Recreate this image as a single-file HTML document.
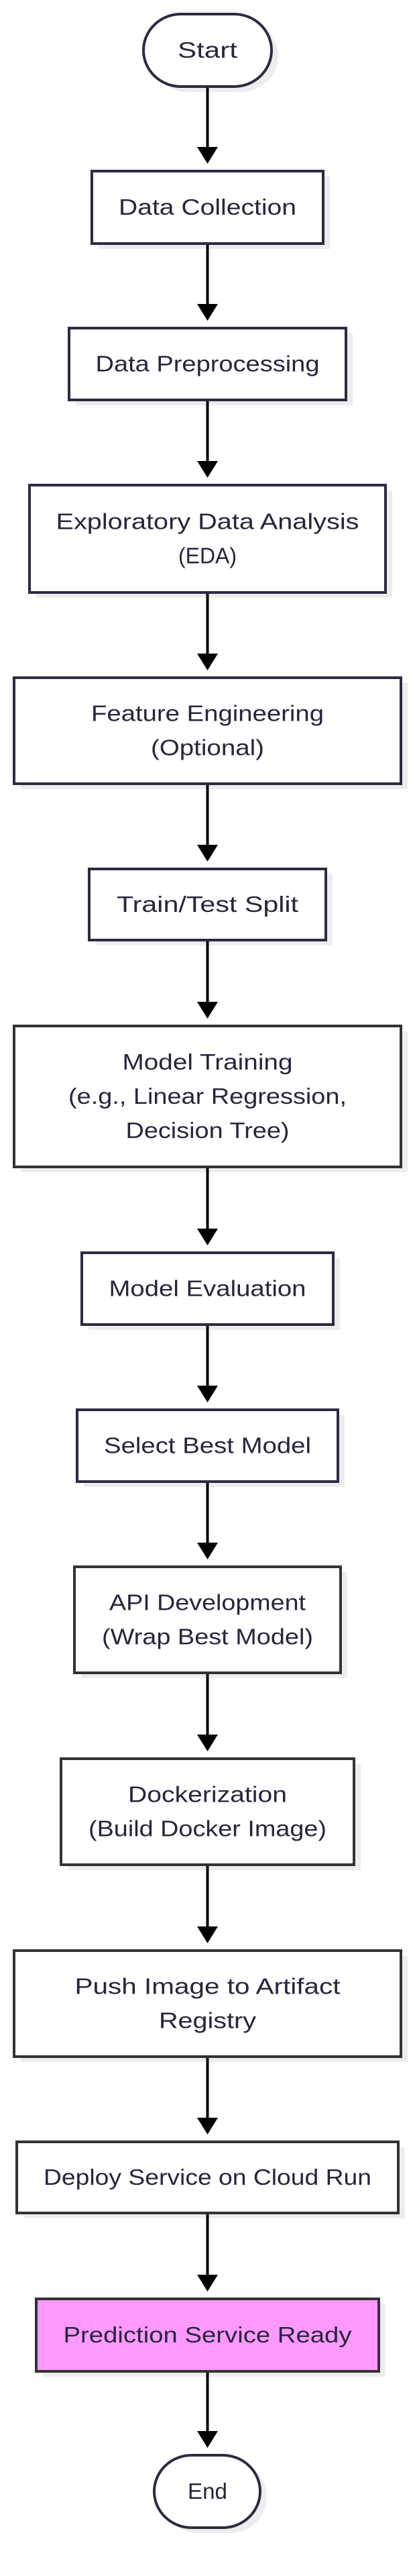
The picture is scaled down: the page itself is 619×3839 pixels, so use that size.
<!DOCTYPE html>
<html><head><meta charset="utf-8"><style>
html,body{margin:0;padding:0;background:#fff;}
svg{display:block;}
text{font-family:"Liberation Sans",sans-serif;font-size:33px;fill:#26263d;}
</style></head><body>
<svg width="619" height="3839" viewBox="0 0 619 3839" xmlns="http://www.w3.org/2000/svg">
<g id="d"></g>
</svg>
<script>
const N=[
 [212,19,407,131,[["Start",89]],'pill','#2b2b42','#fff'],
 [135,253,484,365,[["Data Collection",265]],'r','#2b2b42','#fff'],
 [101,487,518,598,[["Data Preprocessing",334]],'r','#2b2b42','#fff'],
 [42,721,577,885,[["Exploratory Data Analysis",452],["(EDA)",87]],'r','#2b2b42','#fff'],
 [19,1008,600,1170,[["Feature Engineering",347],["(Optional)",169]],'r','#2b2b42','#fff'],
 [131,1293,488,1403,[["Train/Test Split",271]],'r','#2b2b42','#fff'],
 [19,1527,600,1741,[["Model Training",254],["(e.g., Linear Regression,",415],["Decision Tree)",244]],'r','#333','#fff'],
 [120,1865,499,1976,[["Model Evaluation",294]],'r','#2b2b42','#fff'],
 [113,2099,506,2210,[["Select Best Model",309]],'r','#2b2b42','#fff'],
 [109,2333,510,2495,[["API Development",293],["(Wrap Best Model)",315]],'r','#333','#fff'],
 [89,2619,530,2781,[["Dockerization",237],["(Build Docker Image)",355]],'r','#333','#fff'],
 [19,2905,600,3067,[["Push Image to Artifact",396],["Registry",145]],'r','#333','#fff'],
 [23,3190,596,3300,[["Deploy Service on Cloud Run",489]],'r','#333','#fff'],
 [52,3424,567,3536,[["Prediction Service Ready",430]],'r','#333','#ff99ff'],
 [228,3657,390,3769,[["End",59]],'pill','#2b2b42','#fff']
];
let s='';
const cx=309.5;
for(let i=0;i<N.length;i++){
 const [x1,y1,x2,y2,lines,shape,st,fill]=N[i];
 const w=x2-x1,h=y2-y1,rx=shape==='pill'?h/2:0;
 s+=`<rect x="${x1+2+10}" y="${y1+2+8}" width="${w-4}" height="${h-4}" rx="${rx}" fill="#ededed"/>`;
 s+=`<rect x="${x1+2}" y="${y1+2}" width="${w-4}" height="${h-4}" rx="${rx}" fill="${fill}" stroke="${st}" stroke-width="4"/>`;
 const c=(y1+y2)/2,n=lines.length;
 lines.forEach((l,k)=>{
  const by=c+11+(k-(n-1)/2)*51;
  s+=`<text x="${cx}" y="${by}" text-anchor="middle" textLength="${l[1]}" lengthAdjust="spacingAndGlyphs">${l[0].replace(/&/g,'&amp;')}</text>`;
 });
 if(i<N.length-1){
  const ny=N[i+1][1],tip=ny-9,ht=tip-25;
  s+=`<line x1="${cx}" y1="${y2}" x2="${cx}" y2="${ht+1}" stroke="#000" stroke-width="4"/>`;
  s+=`<polygon points="${cx-15.5},${ht} ${cx+15.5},${ht} ${cx},${tip}" fill="#000"/>`;
 }
}
document.getElementById('d').innerHTML=s;
</script>
</body></html>
